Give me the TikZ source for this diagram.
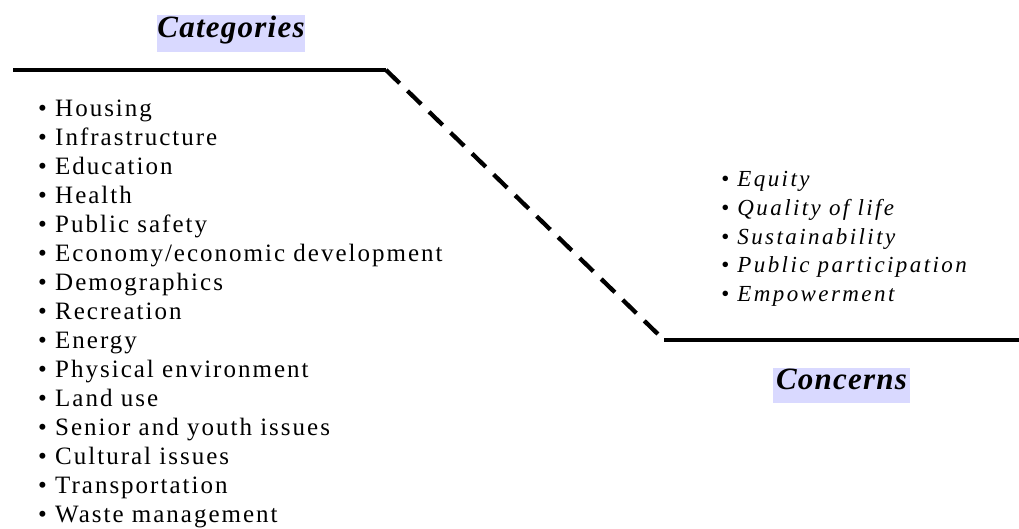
\documentclass[tikz,border=0pt]{standalone}
\usepackage{fontspec}
\setmainfont{Liberation Serif}
\newfontfamily\listfont[LetterSpace=8]{Liberation Serif}
\newfontfamily\concfont[LetterSpace=10.5]{Liberation Serif}
\newfontfamily\titlefont[LetterSpace=4]{Liberation Serif}
\definecolor{lav}{RGB}{217,217,255}
\begin{document}
\begin{tikzpicture}[x=1pt,y=-1pt,
  titlebox/.style={fill=lav, inner sep=0pt, text depth=14pt,
    font=\titlefont\bfseries\itshape\fontsize{31}{31}\selectfont},
  catitem/.style={anchor=base west, inner sep=0pt,
    font=\listfont\fontsize{25}{29}\selectfont},
  concitem/.style={anchor=base west, inner sep=0pt,
    font=\concfont\itshape\fontsize{23}{28}\selectfont},
  rulesolid/.style={line width=4.3pt},
  ruledash/.style={line width=4.3pt, dash pattern=on 19pt off 11pt}]
\useasboundingbox (0,0) rectangle (1019,529);

\node[titlebox, minimum width=148pt, text height=23pt] (cattitle) at (231,33.5) {Categories};
\node[titlebox, minimum width=137pt, text height=21pt] (conctitle) at (841.5,385.5) {Concerns};

\coordinate (a) at (13,70);
\coordinate (b) at (386,70);
\coordinate (c) at (664,340);
\coordinate (d) at (1019,340);
\draw[rulesolid] (a) -- (b);
\draw[ruledash] (b) -- (c);
\draw[rulesolid] (c) -- (d);

\foreach \t [count=\i] in {Housing, Infrastructure, Education, Health, Public safety,
  Economy/economic development, Demographics, Recreation, Energy,
  Physical environment, Land use, Senior and youth issues, Cultural issues,
  Transportation, Waste management}
  \node[catitem] (cat\i) at (38,{116.5+29*(\i-1)}) {• \t};

\foreach \t [count=\i] in {Equity, Quality of life, Sustainability,
  Public participation, Empowerment}
  \node[concitem] (conc\i) at (721,{187+28.6*(\i-1)}) {• \t};
\end{tikzpicture}
\end{document}
